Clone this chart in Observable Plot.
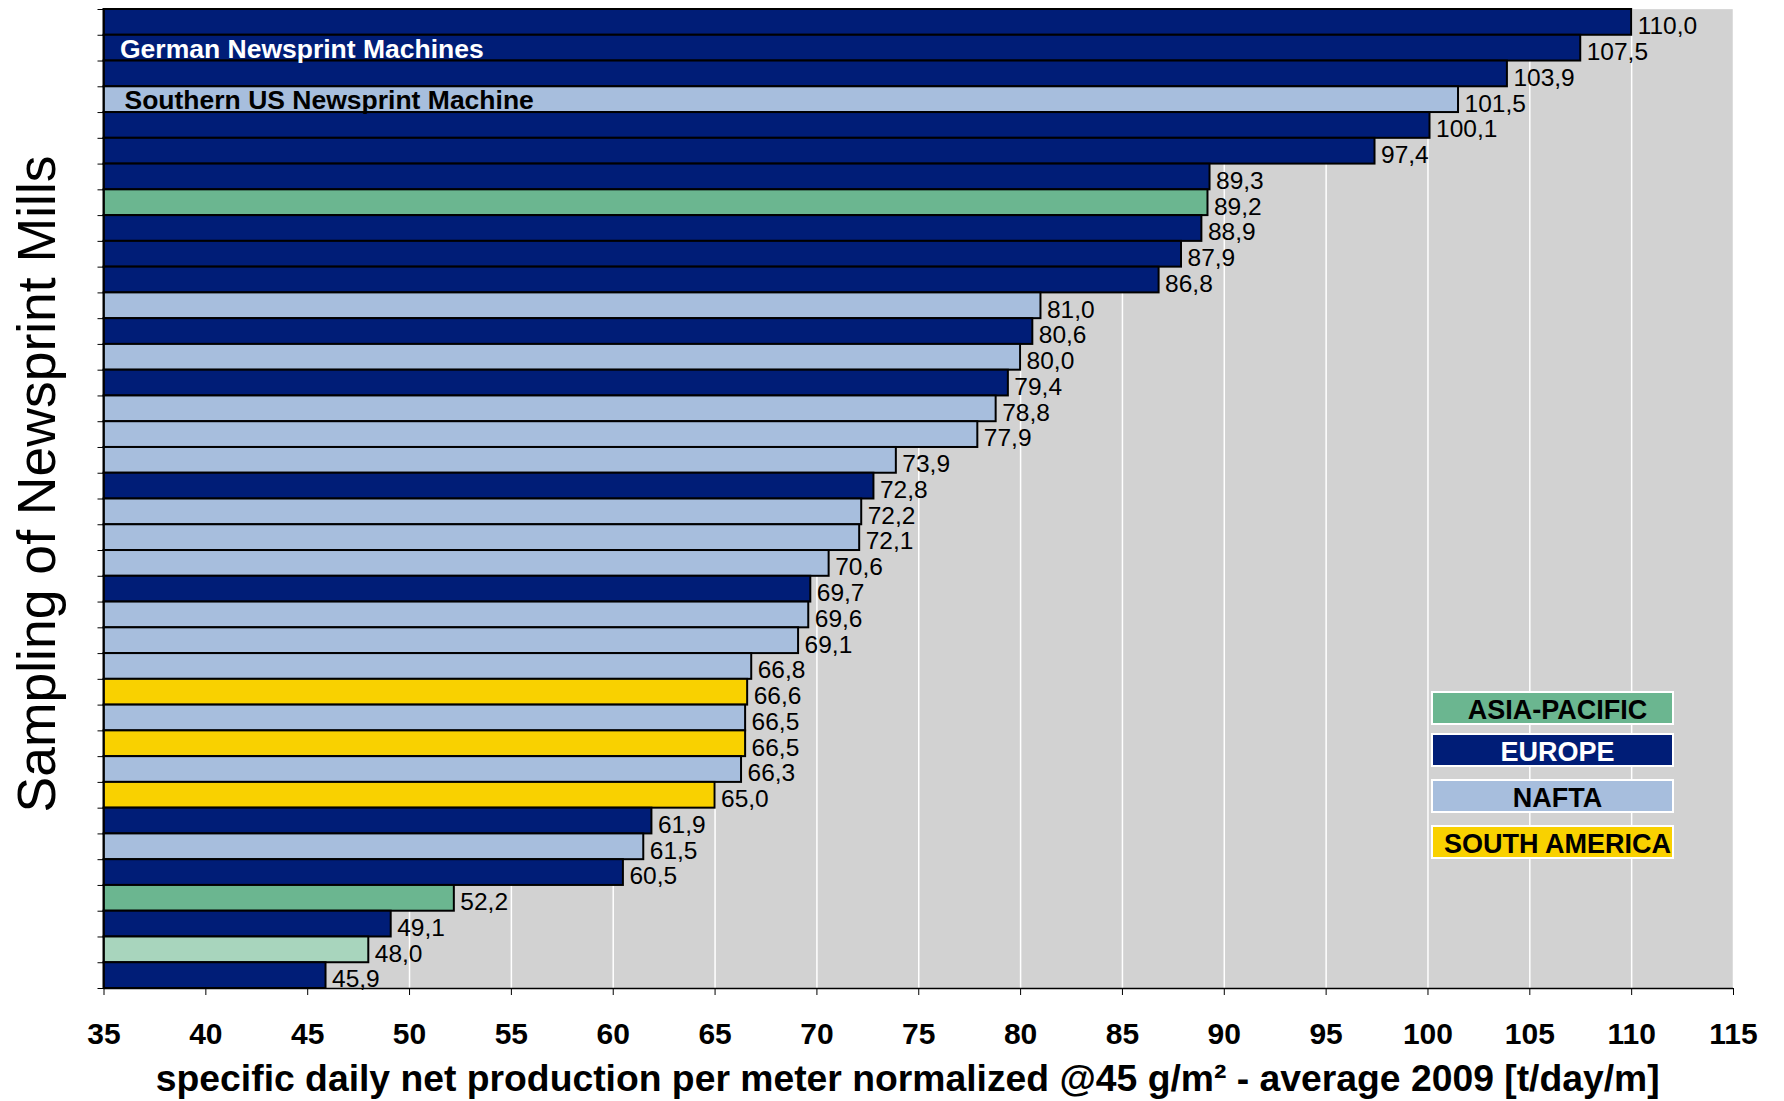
<!DOCTYPE html>
<html>
<head>
<meta charset="utf-8">
<script src="https://cdn.jsdelivr.net/npm/d3@7"></script>
<script src="https://cdn.jsdelivr.net/npm/@observablehq/plot@0.6"></script>
<style>
  html, body { margin: 0; padding: 0; background: #fff; overflow: hidden; }
  #wrap { position: relative; width: 1784px; height: 1101px; font-family: "Liberation Sans", Arial, sans-serif; }
  .leg { position: absolute; left: 1431px; width: 239px; height: 30px; border: 2px solid #fff; box-sizing: content-box;
         font: bold 27px "Liberation Sans", Arial, sans-serif; text-align: center; line-height: 34px; white-space: nowrap;
         overflow: visible; }
  .leg span { position: relative; left: 5px; }
</style>
</head>
<body>
<div id="wrap"></div>
<script>
// ---- data ----
const values = [110.0, 107.5, 103.9, 101.5, 100.1, 97.4, 89.3, 89.2, 88.9, 87.9, 86.8, 81.0, 80.6, 80.0, 79.4, 78.8, 77.9,
  73.9, 72.8, 72.2, 72.1, 70.6, 69.7, 69.6, 69.1, 66.8, 66.6, 66.5, 66.5, 66.3, 65.0, 61.9, 61.5, 60.5, 52.2, 49.1, 48.0, 45.9];
const regions = ["EUROPE", "EUROPE", "EUROPE", "NAFTA", "EUROPE", "EUROPE", "EUROPE", "ASIA-PACIFIC", "EUROPE", "EUROPE", "EUROPE",
  "NAFTA", "EUROPE", "NAFTA", "EUROPE", "NAFTA", "NAFTA", "NAFTA", "EUROPE", "NAFTA", "NAFTA", "NAFTA", "EUROPE", "NAFTA", "NAFTA",
  "NAFTA", "SOUTH AMERICA", "NAFTA", "SOUTH AMERICA", "NAFTA", "SOUTH AMERICA", "EUROPE", "NAFTA", "EUROPE", "ASIA-PACIFIC",
  "EUROPE", "ASIA-PACIFIC (2)", "EUROPE"];
const regionKeys = ["ASIA-PACIFIC", "EUROPE", "NAFTA", "SOUTH AMERICA", "ASIA-PACIFIC (2)"];
const regionColors = ["#6bb690", "#001d77", "#a7bedd", "#f9d100", "#a8d5bd"];
const legendLabels = ["ASIA-PACIFIC", "EUROPE", "NAFTA", "SOUTH AMERICA"];
const legendTextColors = ["#000", "#fff", "#000", "#000"];
const xTicks = [35, 40, 45, 50, 55, 60, 65, 70, 75, 80, 85, 90, 95, 100, 105, 110, 115];
const noteGerman = ["German Newsprint Machines"];
const noteGermanRow = 1;
const noteSouthern = ["Southern US Newsprint Machine"];
const noteSouthernRow = 3;
const xTitle = "specific daily net production per meter normalized @45 g/m² - average 2009 [t/day/m]";
const yTitle = "Sampling of Newsprint Mills";

const rows = values.map((v, i) => ({value: v, region: regions[i], i}));
const n = rows.length;
const fmt = v => v.toFixed(1).replace(".", ",");
const font = "Liberation Sans, Arial, sans-serif";

const chart = Plot.plot({
  width: 1784,
  height: 1101,
  marginLeft: 103.5,
  marginRight: 51,
  marginTop: 9,
  marginBottom: 113,
  style: {fontFamily: font, background: "white", overflow: "visible"},
  x: {domain: [35, 115]},
  y: {domain: [0, n], reverse: true},
  color: {domain: regionKeys, range: regionColors},
  marks: [
    Plot.frame({fill: "#d2d2d2", stroke: "#d8d8d8"}),
    Plot.gridX({ticks: xTicks, stroke: "white", strokeOpacity: 1, strokeWidth: 1.5}),
    Plot.rect(rows, {x1: 35, x2: "value", y1: "i", y2: d => d.i + 1, fill: "region", stroke: "#000", strokeWidth: 2}),
    Plot.text(rows, {x: "value", y: d => d.i + 0.5, text: d => fmt(d.value), textAnchor: "start", dx: 6, dy: 4,
      fontSize: 24.5, fill: "#000"}),
    Plot.text(noteGerman, {x: 35, y: () => noteGermanRow + 0.5, text: d => d, textAnchor: "start", dx: 16, dy: 1,
      fontSize: 26.5, fontWeight: "bold", fill: "white"}),
    Plot.text(noteSouthern, {x: 35, y: () => noteSouthernRow + 0.5, text: d => d, textAnchor: "start", dx: 20.5, dy: 1,
      fontSize: 26.5, fontWeight: "bold", fill: "black"}),
    Plot.ruleX([35], {stroke: "#000", strokeWidth: 1.5}),
    Plot.ruleY([n], {stroke: "#000", strokeWidth: 1.5}),
    Plot.axisY({ticks: d3.range(n + 1), tickSize: 6, tickFormat: () => "", label: null, stroke: "#000"}),
    Plot.axisX({ticks: xTicks, tickSize: 7, tickPadding: 27, label: null, fontSize: 30, fontWeight: "bold", fill: "#000"}),
    Plot.text([xTitle], {frameAnchor: "bottom", text: d => d, dy: 91, dx: -11, lineAnchor: "middle", textAnchor: "middle",
      fontSize: 37.3, fontWeight: "bold", fill: "#000"}),
    Plot.text([yTitle], {frameAnchor: "left", text: d => d, rotate: -90, dx: -66, dy: -15, lineAnchor: "middle",
      textAnchor: "middle", fontSize: 53.5, fill: "#000"})
  ]
});

const wrap = document.getElementById("wrap");
wrap.appendChild(chart);

const legendTops = [691, 733, 779, 825];
legendLabels.forEach((lab, k) => {
  const d = document.createElement("div");
  d.className = "leg";
  d.style.top = legendTops[k] + "px";
  d.style.background = regionColors[regionKeys.indexOf(lab)];
  d.style.color = legendTextColors[k];
  const s = document.createElement("span");
  s.textContent = lab;
  d.appendChild(s);
  wrap.appendChild(d);
});
</script>
</body>
</html>
